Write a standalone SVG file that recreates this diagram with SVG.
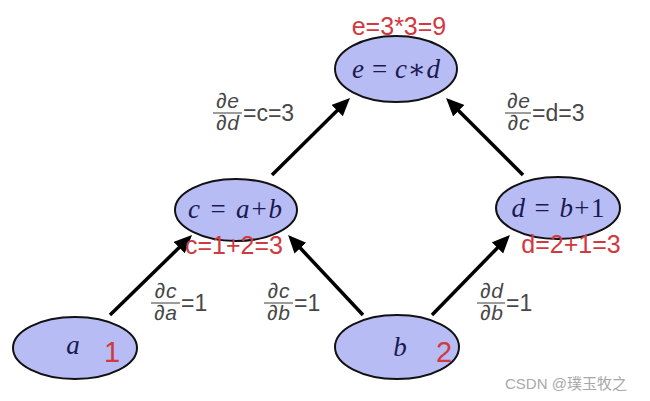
<svg xmlns="http://www.w3.org/2000/svg" width="650" height="401" viewBox="0 0 650 401">
<style>
.node ellipse{fill:#b8bcf5;stroke:#111;stroke-width:2}
.m{font-family:"Liberation Serif","DejaVu Serif",serif;font-size:27px;fill:#1a1a50;text-anchor:middle}
.i{font-style:italic}
.red{font-family:"Liberation Sans",Arial,sans-serif;font-size:25px;fill:#d0393f;text-anchor:middle}
.big{font-family:"Liberation Sans",Arial,sans-serif;font-size:29px;fill:#d0393f;text-anchor:middle}
.g{font-family:"Liberation Sans",Arial,sans-serif;fill:#474747}
.fr{font-size:21px;font-style:italic;text-anchor:middle;letter-spacing:1px}
.eq{font-size:23px}
.bar{stroke:#5a5a5a;stroke-width:1.2}
.conn line{stroke:#000;stroke-width:3.5;marker-end:url(#ah)}
.wm{font-family:"Liberation Sans","Noto Sans CJK SC",sans-serif;font-size:15px;fill:#a8a8a8}
</style>
<defs>
<marker id="ah" markerUnits="userSpaceOnUse" markerWidth="20" markerHeight="18" refX="10" refY="8" orient="auto">
<path d="M0,0 L18,8 L0,16 Z" fill="#000"/>
</marker>
</defs>
<rect width="650" height="401" fill="#fff"/>
<g class="conn" id="connectors">
<line x1="110" y1="315" x2="186.3" y2="240.6"/>
<line x1="363" y1="315" x2="293.5" y2="240.8"/>
<line x1="432" y1="315" x2="504.4" y2="240.7"/>
<line x1="272" y1="175" x2="344.3" y2="103.6"/>
<line x1="523" y1="175" x2="451.7" y2="103.7"/>
</g>
<g class="node" id="node-e">
<ellipse cx="396" cy="69" rx="61" ry="33"/>
<text class="m" x="396" y="78" textLength="88" lengthAdjust="spacing"><tspan class="i">e</tspan> = <tspan class="i">c</tspan>∗<tspan class="i">d</tspan></text>
<text class="red" x="399" y="35">e=3*3=9</text>
</g>
<g class="node" id="node-c">
<ellipse cx="236" cy="210" rx="61" ry="31"/>
<text class="m" x="235" y="218" textLength="94" lengthAdjust="spacing"><tspan class="i">c</tspan> = <tspan class="i">a</tspan>+<tspan class="i">b</tspan></text>
<text class="red" x="234" y="254">c=1+2=3</text>
</g>
<g class="node" id="node-d">
<ellipse cx="558" cy="208" rx="62" ry="31"/>
<text class="m" x="558" y="217" textLength="93" lengthAdjust="spacing"><tspan class="i">d</tspan> = <tspan class="i">b</tspan>+1</text>
<text class="red" x="571" y="253">d=2+1=3</text>
</g>
<g class="node" id="node-a">
<ellipse cx="75" cy="348" rx="62" ry="31"/>
<text class="m i" x="73" y="354">a</text>
<text class="big" x="112" y="362">1</text>
</g>
<g class="node" id="node-b">
<ellipse cx="397" cy="347" rx="62" ry="32"/>
<text class="m i" x="400" y="356">b</text>
<text class="big" x="444" y="362">2</text>
</g>
<g id="label-de-dd">
<text class="g fr" x="228" y="108">∂e</text>
<line class="bar" x1="213" y1="113" x2="242" y2="113"/>
<text class="g fr" x="228" y="130">∂d</text>
<text class="g eq" x="243" y="121">=c=3</text>
</g>
<g id="label-de-dc">
<text class="g fr" x="519" y="108">∂e</text>
<line class="bar" x1="505" y1="113" x2="531" y2="113"/>
<text class="g fr" x="519" y="130">∂c</text>
<text class="g eq" x="532" y="121">=d=3</text>
</g>
<g id="label-dc-da">
<text class="g fr" x="166" y="298">∂c</text>
<line class="bar" x1="151" y1="303" x2="180" y2="303"/>
<text class="g fr" x="166" y="320">∂a</text>
<text class="g eq" x="181" y="311">=1</text>
</g>
<g id="label-dc-db">
<text class="g fr" x="279" y="298">∂c</text>
<line class="bar" x1="264" y1="303" x2="293" y2="303"/>
<text class="g fr" x="279" y="320">∂b</text>
<text class="g eq" x="294" y="311">=1</text>
</g>
<g id="label-dd-db">
<text class="g fr" x="492" y="298">∂d</text>
<line class="bar" x1="477" y1="303" x2="505" y2="303"/>
<text class="g fr" x="492" y="320">∂b</text>
<text class="g eq" x="506" y="311">=1</text>
</g>
<text class="wm" x="505" y="389">CSDN @璞玉牧之</text>
</svg>
